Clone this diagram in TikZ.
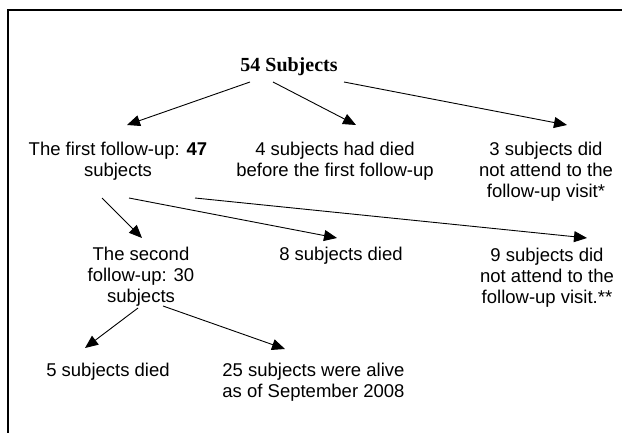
\documentclass[tikz,border=0pt]{standalone}
\usepackage{fontspec}
\setmainfont{Liberation Sans}
\newfontfamily\headfont{Liberation Serif}
\usetikzlibrary{arrows.meta, calc}

\begin{document}
\begin{tikzpicture}[x=1pt, y=-1pt, line width=0.9pt,
    txt/.style={font=\fontsize{18.5}{21}\selectfont, align=center, inner sep=0pt, anchor=north},
    arr/.style={-{Triangle[length=13pt, width=11pt]}}]
    \useasboundingbox (0,0) rectangle (622,433);
    \draw[line width=1.2pt] (8,433) -- (8,10) -- (622,10);
    % nodes
    \node[txt, font=\headfont\bfseries\fontsize{20}{24}\selectfont] (n54) at (289,57) {54 Subjects};
    \node[txt] (first) at (118,142) {The first follow-up: \textbf{47}\\subjects};
    \node[txt] (died4) at (335,142) {4 subjects had died\\before the first follow-up};
    \node[txt] (visit3) at (546,142) {3 subjects did\\not attend to the\\follow-up visit*};
    \node[txt] (second) at (141,247) {The second\\follow-up: 30\\subjects};
    \node[txt] (died8) at (341,247) {8 subjects died};
    \node[txt] (visit9) at (547,248) {9 subjects did\\not attend to the\\follow-up visit.**};
    \node[txt] (died5) at (108,363) {5 subjects died};
    \node[txt, align=left, anchor=north west] (alive25) at (222,363) {25 subjects were alive\\as of September 2008};
    % arrows
    \draw[arr] ($(n54.north)+(-39,25)$) -- ($(first.north)+(9,-17)$);
    \draw[arr] ($(n54.north)+(-16,25)$) -- ($(died4.north)+(21,-17)$);
    \draw[arr] ($(n54.north)+(55,25)$) -- ($(visit3.north)+(21,-17)$);
    \draw[arr] ($(first.north)+(-16,56)$) -- ($(second.north)+(1,-9)$);
    \draw[arr] ($(first.north)+(11,56)$) -- ($(died8.north)+(-4,-9)$);
    \draw[arr] ($(first.north)+(77,56)$) -- ($(visit9.north)+(40,-10)$);
    \draw[arr] ($(second.north)+(-3,61)$) -- ($(died5.north)+(-23,-15)$);
    \draw[arr] ($(second.north)+(22,59)$) -- ($(alive25.north west)+(63,-14)$);
\end{tikzpicture}
\end{document}
